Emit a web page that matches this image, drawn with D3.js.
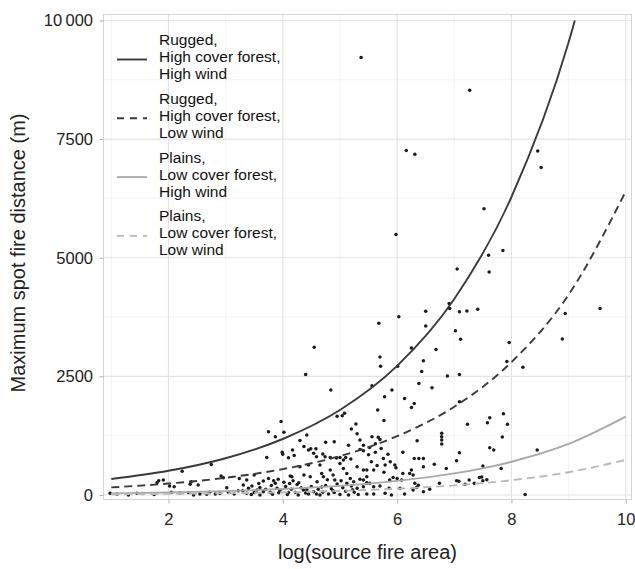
<!DOCTYPE html>
<html>
<head>
<meta charset="utf-8">
<script src="https://cdn.jsdelivr.net/npm/d3@7"></script>
<style>
  body { margin: 0; background: #fff; }
  text { font-family: "Liberation Sans", Arial, sans-serif; }
</style>
</head>
<body>
<div id="chart"></div>
<script>
// ticks
var xTicks = [2, 4, 6, 8, 10],
    xMinor = [1, 3, 5, 7, 9],
    yTicks = [0, 2500, 5000, 7500, 10000],
    yMinor = [1250, 3750, 6250, 8750];

// fitted curves at whole x values
var curveX = [1, 2, 3, 4, 5, 6, 7, 8, 9, 10];
var ruggedHighWind = [337, 510, 775, 1180, 1790, 2720, 4130, 6280, 9540, 14500];
var ruggedLowWind = [160, 241, 363, 545, 820, 1240, 1860, 2800, 4220, 6400];
var plainsHighWind = [35, 53, 82, 126, 193, 297, 455, 700, 1075, 1650];
var plainsLowWind = [15, 24, 36, 56, 86, 132, 203, 312, 480, 740];

var seriesNames = [
  ["Rugged,", "High cover forest,", "High wind"],
  ["Rugged,", "High cover forest,", "Low wind"],
  ["Plains,", "Low cover forest,", "High wind"],
  ["Plains,", "Low cover forest,", "Low wind"]
];

// observed fires: [log(source fire area), max spot distance]
var spotFires = [
  [5.37,9220],[7.27,8530],[6.16,7260],[6.31,7180],[8.46,7250],[8.52,6900],[7.52,6030],[5.98,5490],[7.85,5150],
  [7.6,5050],[7.05,4760],[7.61,4700],[6.91,4035],[6.92,3930],[6.5,3870],[7.09,3860],[7.22,3880],[7.41,3915],
  [9.55,3930],[8.94,3825],[6.03,3755],[5.68,3620],[6.5,3560],[7.02,3460],[7.11,3280],[8.89,3290],[7.96,3215],
  [6.25,3100],[6.68,3065],[5.7,2910],[5.71,2715],[6.01,2715],[6.46,2830],[7.92,2815],[6.43,2600],[8.2,2690],
  [6.88,2510],[7.09,2540],[6.38,2350],[5.56,2300],[5.91,2210],[6.61,2260],[5.78,2070],[6.13,2035],[7.09,1965],
  [6.3,1930],[6.25,1845],[5.66,1790],[5.77,1570],[7.86,1710],[7.62,1630],[7.58,1520],[7.93,1490],[7.23,1490],
  [7.84,1220],[6.78,1300],[6.78,1230],[6.78,1160],[6.78,1075],[6.35,1145],[7.62,995],[7.69,950],[8.45,950],
  [6.1,900],[7.09,890],[7.04,720],[6.3,770],[6.38,770],[6.46,770],[6.65,650],[6.46,595],[6.86,560],[7.5,610],
  [7.82,560],[6.25,525],[6.22,455],[6.28,420],[6.1,455],[5.96,630],[5.98,575],[5.93,370],[6.0,350],[5.87,315],
  [6.08,315],[7.04,300],[7.19,225],[7.26,315],[7.44,370],[7.5,300],[6.74,245],[6.31,245],[6.34,160],[6.37,205],
  [6.57,120],[6.46,70],[6.28,105],[8.24,10],[7.08,290],[7.35,245],[7.57,320],[7.48,380],
  [5.56,1230],[5.67,1215],[5.7,1170],[5.35,960],[5.41,930],[5.76,770],[5.79,630],[5.77,480],[5.47,525],
  [5.59,525],[5.35,330],[5.41,315],[5.47,260],[5.52,245],[5.41,175],[5.47,20],[5.59,20],[5.59,175],[5.7,190],
  [5.86,140],[5.79,35],[5.9,0],[6.05,140],[6.13,20],
  [4.4,2540],[4.84,2210],[4.55,3115],[3.97,1550],[3.75,1335],[4.02,1320],[3.87,1230],[4.42,1265],[4.95,1660],
  [5.04,1670],[5.28,1495],[5.35,1160],[5.41,1050],[3.72,790],[3.99,900],[4.0,860],[4.17,950],[4.1,785],
  [4.2,830],[4.37,1020],[4.45,950],[4.49,975],[4.58,975],[4.54,880],[4.59,805],[4.7,865],[4.74,805],[4.83,790],
  [4.94,780],[5.0,790],[5.06,740],[5.1,790],[5.19,760],[2.24,500],[2.75,645],[1.83,300],[1.91,315],[2.02,190],
  [2.1,175],[2.38,225],[2.52,210],[2.92,400],[2.96,365],[3.02,155],[3.24,350],[3.37,315],[3.5,420],[3.66,295],
  [3.75,350],[3.84,300],[3.87,245],[3.9,140],[3.31,210],[3.4,140],[3.46,190],[3.55,105],[3.6,160],[3.37,35],
  [3.5,50],[3.66,70],[3.78,60],[3.93,45],[4.1,55],[0.98,35],[1.3,0],[2.44,0],[2.67,15],[2.82,20],[4.27,0],
  [4.36,105],[4.45,20],[4.54,70],[4.59,20],[4.13,400],[4.16,385],[4.3,595],[4.37,420],[4.48,385],[4.45,630],
  [4.65,630],[4.68,455],[4.71,385],[4.83,525],[4.88,420],[4.91,315],[5.0,665],[5.06,560],[5.12,455],[5.18,350],
  [5.24,280],[5.3,595],[5.41,525],[5.47,385],[5.47,245],
  [3.3,90],[3.45,10],[3.6,0],[3.7,120],[3.82,15],[3.95,100],[4.05,180],[4.08,10],[4.15,120],[4.22,60],
  [4.25,220],[4.32,150],[4.4,40],[4.5,180],[4.62,120],[4.65,0],[4.7,60],[4.75,200],[4.8,20],[4.85,130],
  [4.9,50],[4.95,230],[5.0,10],[5.05,150],[5.1,80],[5.15,0],[5.2,190],[5.25,60],[5.3,140],[5.32,10],
  [4.02,270],[4.18,300],[4.28,260],[4.6,280],[4.78,320],[5.02,300],[5.12,250],[3.8,200],[3.58,240],[4.88,90],
  [4.42,110],[5.22,110],[4.68,170],[4.12,240],[3.92,330],
  [1.1,20],[1.45,35],[1.55,30],[1.75,10],[2.05,60],[2.2,40],[2.35,50],[2.55,20],[2.72,60],[2.9,30],[3.05,60],
  [3.15,20],[3.22,90],[1.8,260],[2.4,280],
  [5.08,1725],[5.2,1390],[5.3,1290],[4.9,1120],[5.15,1050],[4.75,1110],[4.3,1150],
  [5.5,850],[5.62,900],[5.55,700],[5.65,620],[5.72,980],[5.84,860],[5.88,700],[5.52,1000],[5.62,1080]
];

var width = 635, height = 569;
var panel = {left: 103.5, right: 631.5, top: 14.5, bottom: 499.5};

var svg = d3.select("#chart").append("svg")
    .attr("width", width)
    .attr("height", height);

var x = d3.scaleLinear().domain([0.864, 10.1]).range([panel.left, panel.right]);
var y = d3.scaleLinear().domain([-95, 10126]).range([panel.bottom, panel.top]);

// grid
var grid = svg.append("g");
grid.selectAll(".xminor").data(xMinor).enter().append("line")
    .attr("x1", d => x(d)).attr("x2", d => x(d))
    .attr("y1", panel.top).attr("y2", panel.bottom)
    .attr("stroke", "#f0f0f0").attr("stroke-width", 0.8);
grid.selectAll(".yminor").data(yMinor).enter().append("line")
    .attr("y1", d => y(d)).attr("y2", d => y(d))
    .attr("x1", panel.left).attr("x2", panel.right)
    .attr("stroke", "#f0f0f0").attr("stroke-width", 0.8);
grid.selectAll(".xmajor").data(xTicks).enter().append("line")
    .attr("x1", d => x(d)).attr("x2", d => x(d))
    .attr("y1", panel.top).attr("y2", panel.bottom)
    .attr("stroke", "#e3e3e3").attr("stroke-width", 1.1);
grid.selectAll(".ymajor").data(yTicks).enter().append("line")
    .attr("y1", d => y(d)).attr("y2", d => y(d))
    .attr("x1", panel.left).attr("x2", panel.right)
    .attr("stroke", "#e3e3e3").attr("stroke-width", 1.1);

svg.append("rect")
    .attr("x", panel.left).attr("y", panel.top)
    .attr("width", panel.right - panel.left).attr("height", panel.bottom - panel.top)
    .attr("fill", "none").attr("stroke", "#d4d4d4").attr("stroke-width", 1);

// axes
var xAxis = svg.append("g")
    .attr("transform", "translate(0," + panel.bottom + ")")
    .call(d3.axisBottom(x).tickValues(xTicks).tickSize(4).tickPadding(6));
var yAxis = svg.append("g")
    .attr("transform", "translate(" + panel.left + ",0)")
    .call(d3.axisLeft(y).tickValues(yTicks).tickSize(4).tickPadding(6.5)
      .tickFormat(d => d === 10000 ? "10\u2009000" : d));
[xAxis, yAxis].forEach(function(a) {
  a.select(".domain").remove();
  a.selectAll(".tick line").attr("stroke", "#b3b3b3");
  a.selectAll(".tick text").attr("fill", "#222").style("font-size", "16.5px");
});
xAxis.selectAll(".tick text").attr("dy", "0.95em");

svg.append("text")
    .attr("x", (panel.left + panel.right) / 2).attr("y", 559)
    .attr("text-anchor", "middle")
    .style("font-size", "20px").attr("fill", "#222")
    .text("log(source fire area)");
svg.append("text")
    .attr("transform", "translate(25," + ((panel.top + panel.bottom) / 2 - 4) + ") rotate(-90)")
    .attr("text-anchor", "middle")
    .style("font-size", "20px").attr("fill", "#222")
    .text("Maximum spot fire distance (m)");

// points
svg.append("g").selectAll("circle").data(spotFires).enter().append("circle")
    .attr("cx", d => x(d[0])).attr("cy", d => y(d[1]))
    .attr("r", 1.75).attr("fill", "#1a1a1a");

// curves
svg.append("clipPath").attr("id", "clip").append("rect")
    .attr("x", panel.left).attr("y", y(10000))
    .attr("width", panel.right - panel.left).attr("height", panel.bottom - y(10000));

var styles = [
  {values: ruggedHighWind, color: "#3a3a3a", dash: null},
  {values: ruggedLowWind, color: "#3a3a3a", dash: "8,5"},
  {values: plainsHighWind, color: "#a9a9a9", dash: null},
  {values: plainsLowWind, color: "#b8b8b8", dash: "8,5"}
];

var line = d3.line()
    .x(d => x(d[0])).y(d => y(d[1]))
    .curve(d3.curveMonotoneX);

var curves = svg.append("g").attr("clip-path", "url(#clip)");
styles.forEach(function(s) {
  curves.append("path")
      .attr("d", line(curveX.map((v, i) => [v, s.values[i]])))
      .attr("fill", "none").attr("stroke", s.color)
      .attr("stroke-width", 1.9)
      .attr("stroke-dasharray", s.dash);
});

// legend
var legend = svg.append("g");
seriesNames.forEach(function(lines, i) {
  var top = 45 + i * 58.8;
  legend.append("line")
      .attr("x1", 117).attr("x2", 147)
      .attr("y1", top + 14.5).attr("y2", top + 14.5)
      .attr("stroke", styles[i].color).attr("stroke-width", 1.9)
      .attr("stroke-dasharray", styles[i].dash ? "7,6" : null);
  var t = legend.append("text")
      .attr("x", 159).attr("y", top)
      .style("font-size", "15.5px").attr("fill", "#111");
  lines.forEach(function(l, j) {
    t.append("tspan").attr("x", 159).attr("y", top + j * 17).text(l);
  });
});
</script>
</body>
</html>
